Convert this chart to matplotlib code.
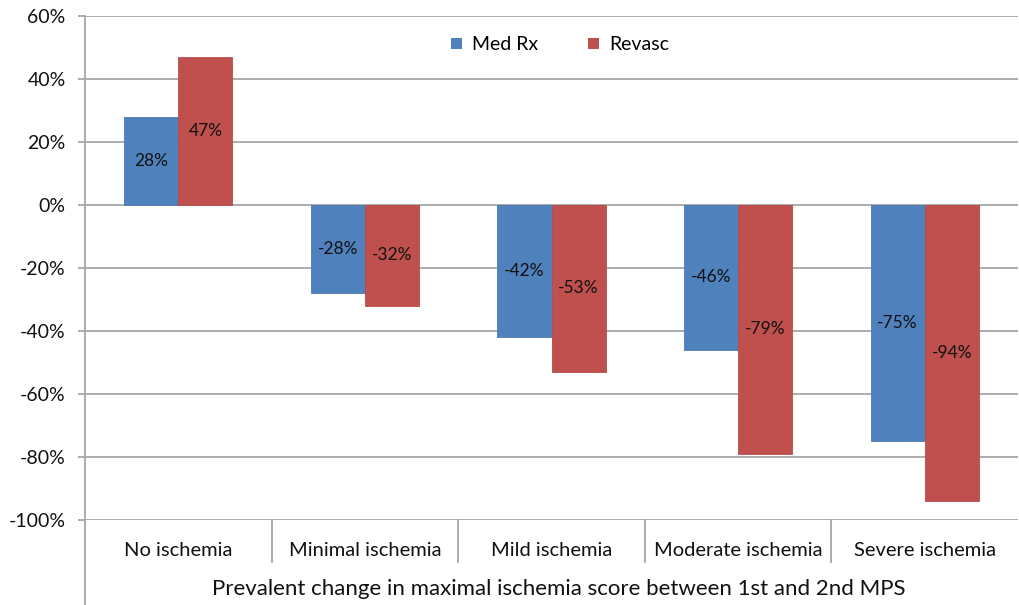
import matplotlib
matplotlib.use("Agg")
import matplotlib.pyplot as plt
import numpy as np
from matplotlib.patches import Patch
from matplotlib.transforms import blended_transform_factory

categories = ["No ischemia", "Minimal ischemia", "Mild ischemia",
              "Moderate ischemia", "Severe ischemia"]
med_rx = [28, -28, -42, -46, -75]
revasc = [47, -32, -53, -79, -94]
series_names = ["Med Rx", "Revasc"]
y_ticks = [60, 40, 20, 0, -20, -40, -60, -80, -100]
x_title = "Prevalent change in maximal ischemia score between 1st and 2nd MPS"

plt.rcParams["font.family"] = ["Lato", "DejaVu Sans"]

BLUE = "#4f81bd"
RED = "#c0504d"
GRID = "#a6a6a6"
TEXT = "#111111"

W, H = 1019, 605
fig = plt.figure(figsize=(W / 100, H / 100), dpi=100)
left, right, top, bottom = 85, 1018, 16, 520
ax = fig.add_axes([left / W, 1 - bottom / H, (right - left) / W, (bottom - top) / H])

x = np.arange(len(categories)) + 0.5
w = 0.29
b1 = ax.bar(x - w / 2, med_rx, w, color=BLUE, edgecolor="#4a7ab3", linewidth=0.6, zorder=2)
b2 = ax.bar(x + w / 2, revasc, w, color=RED, edgecolor="#b44b48", linewidth=0.6, zorder=2)

for bars, vals in ((b1, med_rx), (b2, revasc)):
    for bar, v in zip(bars, vals):
        ax.text(bar.get_x() + bar.get_width() / 2, v / 2, f"{v}%",
                ha="center", va="center", fontsize=12.5, color=TEXT, zorder=3)

ax.set_xlim(0, len(categories))
ax.set_ylim(-100, 60)
ax.set_yticks(y_ticks)
ax.set_yticklabels([f"{t}%" for t in y_ticks])
ax.yaxis.grid(True, color=GRID, linewidth=1.3, zorder=0)
ax.tick_params(axis="y", direction="out", length=5, width=1.3, color=GRID,
               labelsize=14, labelcolor=TEXT, pad=9)
ax.set_xticks([])
for s in ax.spines.values():
    s.set_visible(False)

# left axis line runs past the plot down to the bottom edge
ax.plot([0, 0], [1, -(H - bottom) / (bottom - top)], transform=ax.transAxes,
        color=GRID, linewidth=1.3, clip_on=False, zorder=1)

# category labels and separators under the plot
tr = blended_transform_factory(ax.transData, ax.transAxes)
sep_len = 42 / (bottom - top)
for i in range(1, len(categories)):
    ax.plot([i, i], [0, -sep_len], transform=tr, color=GRID, linewidth=1.3, clip_on=False)
for xi, c in zip(x, categories):
    ax.text(xi, -30 / (bottom - top), c, transform=tr, ha="center", va="center",
            fontsize=14.5, color=TEXT)

fig.text((left + right) / 2 / W + 0.007, 1 - 589 / H, x_title, ha="center", va="center",
         fontsize=16, color=TEXT)

handles = [Patch(facecolor=BLUE), Patch(facecolor=RED)]
ax.legend(handles, series_names, ncol=2, loc="center",
          bbox_to_anchor=((560 - left) / (right - left), (bottom - 45) / (bottom - top)),
          frameon=False, fontsize=14, handlelength=0.55, handleheight=0.55,
          columnspacing=2.6, handletextpad=0.5)

fig.savefig("out.png", dpi=100, facecolor="white")
